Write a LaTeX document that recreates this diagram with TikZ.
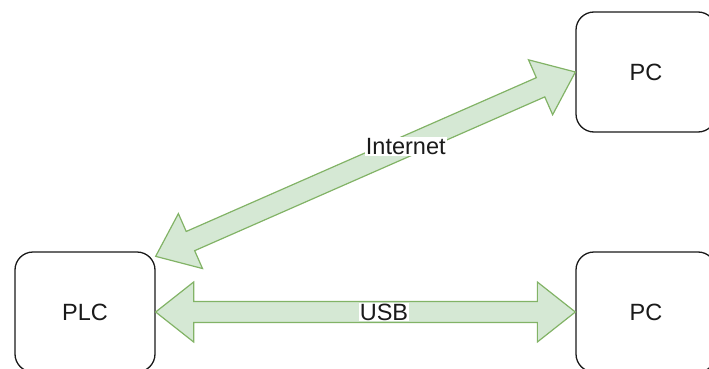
\documentclass[tikz,border=0pt]{standalone}
\usepackage{fontspec}
\setmainfont{Liberation Sans}
\usetikzlibrary{calc}
\definecolor{arrowfill}{HTML}{D5E8D4}
\definecolor{arrowline}{HTML}{82B366}
\definecolor{boxline}{HTML}{1A1A1A}

% fat double-headed arrow between two named points
\newcommand{\fatarrow}[2]{%
  \coordinate (fa1) at ($(#1)!38pt!(#2)$);
  \coordinate (fb1) at ($(#2)!38pt!(#1)$);
  \draw[fatarrowstyle] (#1)
    -- ($(fa1)!30pt!-90:(#2)$) -- ($(fa1)!10.5pt!-90:(#2)$)
    -- ($(fb1)!10.5pt!90:(#1)$) -- ($(fb1)!30pt!90:(#1)$)
    -- (#2)
    -- ($(fb1)!30pt!-90:(#1)$) -- ($(fb1)!10.5pt!-90:(#1)$)
    -- ($(fa1)!10.5pt!90:(#2)$) -- ($(fa1)!30pt!90:(#2)$)
    -- cycle;
}

\begin{document}
\begin{tikzpicture}[x=1pt,y=-1pt,
  devbox/.style={draw=boxline, line width=1.3pt, rounded corners=18pt, fill=white,
    minimum width=140pt, minimum height=120pt, inner sep=0pt,
    font=\fontsize{23.5}{28}\selectfont, text=boxline},
  fatarrowstyle/.style={fill=arrowfill, draw=arrowline, line width=1.2pt, line join=miter},
  lbl/.style={fill=white, inner sep=1pt, font=\fontsize{23.5}{28}\selectfont, text=boxline}]
\useasboundingbox (0,0) rectangle (709,369);

\node[devbox] (PLC) at (85,312) {PLC};
\node[devbox] (PCt) at (646,72) {PC};
\node[devbox] (PCb) at (646,312) {PC};

\coordinate (inetA) at ([yshift=-5pt]PLC.north east);

\fatarrow{inetA}{PCt.west}
\fatarrow{PLC.east}{PCb.west}

\path (inetA) -- (PCt.west) node[lbl, pos=0.596] (inetlbl) {Internet};
\path (PLC.east) -- (PCb.west) node[lbl, pos=0.544] (usblbl) {USB};
\end{tikzpicture}
\end{document}
